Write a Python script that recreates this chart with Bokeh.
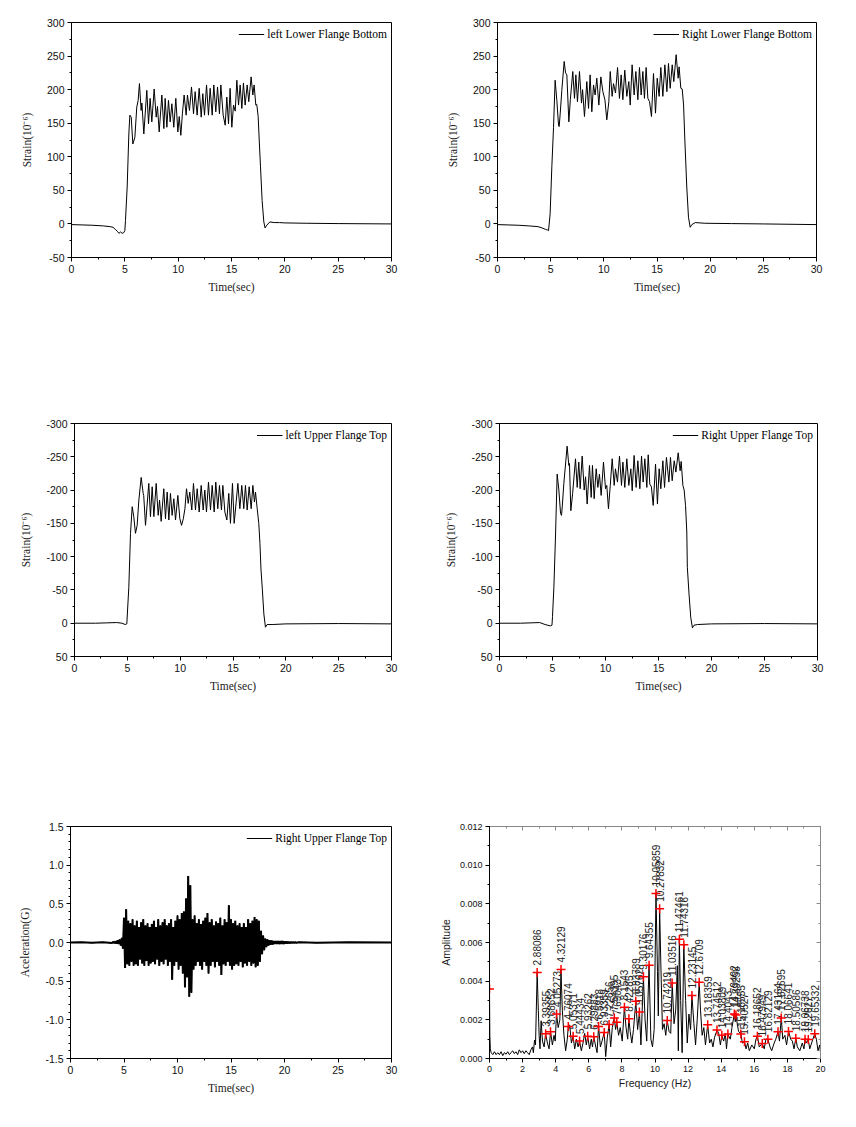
import math
from bokeh.plotting import figure
from bokeh.models import (Range1d, SingleIntervalTicker, PrintfTickFormatter, LinearAxis,
                          ColumnDataSource, CustomJSTickFormatter)
from bokeh.layouts import column, row
from bokeh.embed import file_html
from bokeh.resources import INLINE
from bokeh.core.properties import value

# ---------------- DATA ----------------
# Strain, left lower flange bottom: (time s, strain 1e-6)
s_left_lower = [(0, -1), (1, -1.5), (2, -2), (3, -3), (3.6, -4), (3.9, -5), (4.1, -8), (4.3, -11),
    (4.45, -14), (4.6, -12), (4.75, -14), (4.9, -13), (5.0, -10), (5.06, 5), (5.22, 55), (5.375, 134),
    (5.47, 162), (5.6, 159), (5.75, 119), (5.94, 129), (6.12, 174), (6.25, 184), (6.37, 209), (6.53, 169),
    (6.6, 180), (6.78, 134), (7.06, 199), (7.22, 149), (7.37, 187), (7.53, 152), (7.75, 201), (7.94, 159),
    (8.06, 175), (8.22, 137), (8.47, 192), (8.66, 142), (8.78, 187), (8.94, 144), (9.09, 184), (9.25, 152),
    (9.41, 179), (9.59, 144), (9.78, 187), (9.97, 137), (10.1, 160), (10.25, 132), (10.4, 165), (10.56, 192),
    (10.75, 162), (10.87, 192), (11.06, 169), (11.25, 204), (11.44, 164), (11.59, 197), (11.78, 162),
    (11.97, 202), (12.16, 159), (12.31, 194), (12.47, 162), (12.66, 207), (12.84, 162), (13.0, 202),
    (13.19, 162), (13.34, 207), (13.53, 167), (13.69, 204), (13.87, 164), (14.0, 207), (14.22, 162),
    (14.41, 147), (14.56, 189), (14.72, 149), (14.87, 202), (15.03, 144), (15.19, 177), (15.35, 168),
    (15.5, 214), (15.66, 177), (15.81, 207), (15.97, 172), (16.12, 210), (16.28, 177), (16.47, 207),
    (16.62, 182), (16.84, 219), (17.0, 192), (17.12, 207), (17.28, 177), (17.37, 178), (17.5, 160),
    (17.6, 125), (17.72, 85), (17.87, 35), (18.03, 3), (18.15, -6), (18.3, -2), (18.6, 3), (19.0, 2),
    (19.5, 2), (20, 1.5), (22, 1), (25, 0.5), (30, 0)]

s_right_lower = [(0, -1), (1, -1.5), (2, -2), (3, -3), (3.8, -4), (4.2, -6), (4.5, -8), (4.7, -9),
    (4.8, -10), (4.95, 15), (5.11, 85), (5.27, 144), (5.42, 214), (5.58, 184), (5.74, 147), (5.8, 145),
    (5.9, 165), (6.05, 199), (6.27, 242), (6.4, 225), (6.52, 222), (6.71, 152), (6.85, 185), (7.08, 227),
    (7.24, 187), (7.37, 222), (7.52, 182), (7.71, 227), (7.9, 180), (8.0, 200), (8.18, 160), (8.4, 212),
    (8.56, 172), (8.71, 222), (8.87, 167), (9.03, 207), (9.18, 192), (9.34, 217), (9.53, 177), (9.72, 219),
    (9.91, 197), (10.1, 185), (10.28, 155), (10.47, 182), (10.6, 227), (10.78, 190), (10.91, 209),
    (11.1, 195), (11.29, 233), (11.47, 187), (11.63, 222), (11.79, 185), (11.97, 229), (12.16, 190),
    (12.35, 212), (12.48, 177), (12.66, 237), (12.85, 192), (13.01, 227), (13.2, 185), (13.35, 233),
    (13.51, 192), (13.67, 227), (13.82, 187), (13.98, 233), (14.14, 187), (14.3, 182), (14.48, 160),
    (14.67, 224), (14.86, 165), (15.02, 217), (15.2, 190), (15.36, 233), (15.55, 190), (15.74, 237),
    (15.93, 197), (16.08, 239), (16.24, 202), (16.43, 237), (16.58, 212), (16.8, 252), (16.99, 217),
    (17.08, 234), (17.24, 202), (17.37, 201), (17.5, 177), (17.62, 125), (17.8, 55), (17.96, 10),
    (18.12, -5), (18.28, -1), (18.6, 2), (19.5, 1), (22, 0.5), (25, 0), (30, -1)]

s_left_upper = [(0, 0), (2, 0), (3, -0.5), (4, -1), (4.5, 0), (4.8, 2), (4.95, 1), (5.14, -54),
    (5.3, -135), (5.46, -175), (5.61, -160), (5.77, -135), (5.93, -147), (6.09, -185), (6.31, -219),
    (6.5, -195), (6.55, -192), (6.72, -147), (7.03, -210), (7.19, -160), (7.35, -205), (7.51, -160),
    (7.73, -210), (7.92, -162), (8.05, -185), (8.2, -153), (8.45, -202), (8.61, -157), (8.77, -197),
    (8.93, -155), (9.08, -195), (9.24, -162), (9.4, -187), (9.56, -155), (9.78, -192), (9.97, -157),
    (10.13, -147), (10.3, -157), (10.45, -172), (10.6, -202), (10.76, -180), (10.91, -197), (11.1, -170),
    (11.26, -210), (11.45, -170), (11.61, -202), (11.8, -167), (11.99, -207), (12.18, -170), (12.33, -200),
    (12.49, -167), (12.68, -212), (12.87, -170), (13.03, -207), (13.22, -167), (13.37, -212), (13.56, -172),
    (13.72, -207), (13.91, -170), (14.04, -207), (14.23, -167), (14.42, -155), (14.6, -195), (14.76, -150),
    (14.95, -210), (15.11, -150), (15.3, -182), (15.46, -210), (15.65, -172), (15.83, -207), (16.02, -172),
    (16.18, -207), (16.34, -170), (16.53, -205), (16.72, -172), (16.88, -207), (17.03, -182), (17.13, -197),
    (17.29, -172), (17.44, -150), (17.55, -120), (17.65, -80), (17.78, -50), (17.92, -14), (18.07, 6),
    (18.23, 2), (18.7, 2), (20, 1), (25, 0.5), (30, 1)]

s_right_upper = [(0, 0), (2, 0), (3.8, -1), (4.3, 2), (4.8, 4), (4.95, 3), (5.0, -10), (5.13, -54),
    (5.29, -134), (5.44, -224), (5.6, -200), (5.76, -165), (5.85, -162), (5.92, -175), (6.07, -210),
    (6.38, -266), (6.54, -237), (6.6, -240), (6.73, -169), (6.9, -195), (7.17, -247), (7.33, -204),
    (7.48, -242), (7.61, -202), (7.8, -251), (7.99, -200), (8.12, -220), (8.27, -179), (8.49, -237),
    (8.65, -189), (8.77, -237), (8.93, -187), (9.12, -232), (9.28, -204), (9.43, -224), (9.59, -192),
    (9.81, -242), (10.0, -202), (10.12, -207), (10.28, -172), (10.45, -207), (10.63, -247), (10.82, -207),
    (10.94, -232), (11.13, -212), (11.32, -251), (11.51, -207), (11.64, -242), (11.82, -204), (12.01, -247),
    (12.2, -207), (12.39, -232), (12.52, -199), (12.7, -252), (12.89, -204), (13.05, -244), (13.24, -202),
    (13.4, -251), (13.55, -212), (13.71, -247), (13.9, -204), (14.03, -253), (14.18, -209), (14.33, -205),
    (14.5, -177), (14.72, -239), (14.9, -179), (15.06, -232), (15.22, -202), (15.41, -244), (15.57, -204),
    (15.75, -249), (15.98, -212), (16.13, -249), (16.29, -214), (16.48, -244), (16.64, -227), (16.86, -256),
    (17.04, -229), (17.14, -243), (17.3, -207), (17.42, -200), (17.55, -177), (17.67, -137), (17.72, -84),
    (17.88, -44), (18.04, -9), (18.2, 7), (18.35, 3), (18.67, 2), (20, 1), (25, 0.5), (30, 1)]

# Acceleration (G): quiet part before/after, and per-0.2 s window max / min from 4.0 s to 21.0 s
acc_before = [(0, 0), (1, 0.003), (2, -0.003), (3, 0.004), (3.9, -0.005)]
acc_after = [(21.3, 0.004), (23, -0.003), (26, 0.002), (30, 0)]
acc_window_start = 4.0
acc_window = 0.2
acc_hi = [0.01, 0.015, 0.03, 0.04, 0.06,
          0.32, 0.43, 0.28, 0.25, 0.30,
          0.22, 0.28, 0.20, 0.26, 0.30,
          0.22, 0.25, 0.20, 0.24, 0.28,
          0.20, 0.30, 0.22, 0.26, 0.30,
          0.22, 0.25, 0.30, 0.20, 0.28,
          0.35, 0.30, 0.38, 0.40, 0.57,
          0.86, 0.74, 0.30, 0.35, 0.25,
          0.30, 0.24, 0.28, 0.32, 0.38,
          0.26, 0.30, 0.22, 0.27, 0.25,
          0.32, 0.22, 0.30, 0.26, 0.48,
          0.30, 0.25, 0.28, 0.22, 0.25,
          0.20, 0.25, 0.20, 0.30, 0.25,
          0.28, 0.33, 0.30, 0.28, 0.15,
          0.09, 0.05, 0.04, 0.03, 0.025,
          0.02, 0.02, 0.02, 0.018, 0.02,
          0.015, 0.012, 0.01, 0.008, 0.006, 0.005]
acc_lo = [-0.01, -0.015, -0.02, -0.04, -0.08,
          -0.33, -0.28, -0.30, -0.25, -0.30,
          -0.28, -0.30, -0.22, -0.27, -0.30,
          -0.24, -0.30, -0.27, -0.25, -0.28,
          -0.22, -0.30, -0.25, -0.28, -0.22,
          -0.30, -0.25, -0.48, -0.30, -0.25,
          -0.35, -0.30, -0.40, -0.58, -0.45,
          -0.70, -0.65, -0.35, -0.30, -0.25,
          -0.30, -0.35, -0.25, -0.30, -0.40,
          -0.30, -0.25, -0.32, -0.25, -0.30,
          -0.42, -0.28, -0.30, -0.25, -0.30,
          -0.35, -0.30, -0.28, -0.30, -0.25,
          -0.32, -0.27, -0.30, -0.25, -0.30,
          -0.27, -0.32, -0.30, -0.25, -0.15,
          -0.10, -0.06, -0.04, -0.03, -0.025,
          -0.02, -0.02, -0.02, -0.018, -0.02,
          -0.015, -0.012, -0.01, -0.008, -0.006, -0.005]

# FFT spectrum: (frequency Hz, amplitude in 1e-3)
fft_curve = [(0.0, 3.6), (0.02, 1.2), (0.05, 0.5), (0.1, 0.3), (0.2, 0.2), (0.3, 0.35), (0.4, 0.2),
    (0.5, 0.3), (0.6, 0.2), (0.7, 0.35), (0.8, 0.15), (0.9, 0.3), (1.0, 0.22), (1.1, 0.35), (1.2, 0.2),
    (1.3, 0.3), (1.4, 0.4), (1.5, 0.25), (1.6, 0.35), (1.7, 0.2), (1.8, 0.45), (1.9, 0.3), (2.0, 0.4),
    (2.1, 0.25), (2.2, 0.4), (2.3, 0.3), (2.4, 0.2), (2.5, 0.45), (2.6, 0.6), (2.65, 0.3), (2.72, 0.95),
    (2.78, 0.7), (2.88, 4.45), (2.95, 2.5), (3.0, 1.2), (3.05, 0.5), (3.12, 1.95), (3.2, 0.9), (3.3, 0.6),
    (3.39, 1.28), (3.5, 0.8), (3.6, 0.5), (3.69, 1.39), (3.8, 0.7), (3.9, 1.2), (3.97, 0.9), (4.05, 2.3),
    (4.15, 1.6), (4.25, 2.0), (4.32, 4.6), (4.4, 2.5), (4.5, 1.2), (4.6, 0.4), (4.7, 1.0), (4.76, 1.66),
    (4.85, 1.7), (4.95, 0.8), (5.05, 1.15), (5.15, 0.5), (5.25, 1.0), (5.35, 0.6), (5.44, 0.9), (5.55, 0.4),
    (5.65, 0.8), (5.75, 1.3), (5.85, 0.7), (5.93, 1.15), (6.05, 0.5), (6.15, 1.0), (6.22, 0.6), (6.3, 1.12),
    (6.4, 0.7), (6.5, 0.3), (6.59, 1.66), (6.7, 0.6), (6.8, 0.9), (6.93, 1.35), (7.02, 0.1), (7.12, 1.1),
    (7.23, 1.76), (7.32, 0.6), (7.42, 1.6), (7.54, 2.1), (7.62, 1.5), (7.69, 1.88), (7.8, 1.2), (7.9, 1.6),
    (8.02, 0.9), (8.15, 2.65), (8.25, 1.6), (8.35, 1.0), (8.42, 2.06), (8.5, 1.4), (8.6, 0.8), (8.7, 1.5),
    (8.84, 2.96), (8.95, 1.5), (9.06, 2.4), (9.15, 0.7), (9.3, 4.23), (9.4, 2.0), (9.5, 0.9), (9.64, 4.82),
    (9.75, 1.0), (9.85, 0.6), (9.95, 1.5), (10.06, 8.54), (10.15, 4.5), (10.2, 2.2), (10.28, 7.74),
    (10.35, 5.0), (10.45, 1.5), (10.55, 1.8), (10.65, 1.2), (10.74, 1.96), (10.85, 1.4), (10.95, 1.3),
    (11.04, 3.9), (11.15, 1.8), (11.25, 2.5), (11.35, 4.8), (11.41, 0.4), (11.47, 6.17), (11.55, 3.0),
    (11.64, 0.3), (11.74, 5.88), (11.85, 3.0), (11.95, 0.8), (12.05, 2.3), (12.15, 1.5), (12.23, 3.26),
    (12.35, 1.8), (12.45, 0.7), (12.55, 2.0), (12.67, 3.94), (12.75, 2.5), (12.85, 1.2), (12.95, 1.6),
    (13.05, 0.7), (13.18, 1.74), (13.3, 0.8), (13.4, 1.0), (13.5, 0.6), (13.6, 1.1), (13.75, 1.47),
    (13.85, 1.3), (13.95, 0.7), (14.04, 1.2), (14.15, 0.9), (14.25, 1.3), (14.32, 0.5), (14.4, 1.27),
    (14.55, 1.0), (14.65, 1.6), (14.79, 2.3), (14.85, 1.9), (14.89, 2.25), (14.97, 1.8), (15.05, 1.4),
    (15.19, 1.27), (15.28, 0.8), (15.41, 0.86), (15.5, 0.5), (15.6, 0.8), (15.7, 0.4), (15.85, 0.7),
    (16.0, 0.5), (16.1, 1.0), (16.19, 1.15), (16.3, 0.6), (16.48, 0.78), (16.6, 0.5), (16.7, 1.0),
    (16.82, 1.0), (16.95, 0.6), (17.05, 0.4), (17.2, 0.8), (17.3, 1.0), (17.43, 1.39), (17.52, 0.9),
    (17.63, 2.1), (17.72, 1.0), (17.85, 1.2), (17.95, 0.7), (18.07, 1.4), (18.2, 1.0), (18.3, 0.9),
    (18.4, 0.5), (18.51, 1.05), (18.6, 0.6), (18.75, 0.4), (18.9, 0.8), (19.0, 0.5), (19.07, 1.0),
    (19.15, 0.8), (19.26, 0.98), (19.35, 0.5), (19.5, 0.9), (19.65, 1.28), (19.75, 1.0), (19.85, 0.4),
    (19.95, 0.7), (20.0, 0.3)]

peak_freq = [2.88086, 3.39355, 3.68652, 4.05273, 4.32129, 4.76074, 5.05371, 5.44434, 5.93262, 6.29883,
             6.5918, 6.93359, 7.22656, 7.54395, 7.69043, 8.1543, 8.42285, 8.83789, 9.05762, 9.30176,
             9.64355, 10.05859, 10.27832, 10.74219, 11.03516, 11.47461, 11.74316, 12.23145, 12.6709,
             13.18359, 13.74512, 14.03809, 14.4043, 14.79492, 14.89258, 15.18555, 15.40527, 16.18652,
             16.47949, 16.82129, 17.43164, 17.62695, 18.06641, 18.50586, 19.06738, 19.2627, 19.65332]
peak_amp = [4.45, 1.28, 1.39, 2.30, 4.60, 1.66, 1.15, 0.90, 1.15, 1.12,
            1.66, 1.35, 1.76, 2.10, 1.88, 2.65, 2.06, 2.96, 2.40, 4.23,
            4.82, 8.54, 7.74, 1.96, 3.90, 6.17, 5.88, 3.26, 3.94,
            1.74, 1.47, 1.20, 1.27, 2.30, 2.25, 1.27, 0.86, 1.15,
            0.78, 1.00, 1.39, 2.10, 1.40, 1.05, 1.00, 0.98, 1.28]
zero_peak = (0.0, 3.6)

# ---------------- STYLE ----------------
SERIF = "Liberation Serif"
SANS = "Liberation Sans"


def make_fig(w, h, left, right, top, bottom, xr, yr):
    p = figure(width=w, height=h, x_range=xr, y_range=yr, output_backend="svg",
               toolbar_location=None, tools="",
               min_border_left=left, min_border_right=right,
               min_border_top=top, min_border_bottom=bottom)
    p.outline_line_color = "black"
    p.outline_line_width = 1
    p.background_fill_color = "white"
    p.border_fill_color = "white"
    p.xgrid.visible = False
    p.ygrid.visible = False
    return p


def style_axes(p, xint, xminor, yint, yminor, yfmt, xlabel, ylabel, lfont, lsize, tsize, xstand, ystand):
    p.xaxis.ticker = SingleIntervalTicker(interval=xint, num_minor_ticks=xminor)
    p.yaxis.ticker = SingleIntervalTicker(interval=yint, num_minor_ticks=yminor)
    p.xaxis.formatter = PrintfTickFormatter(format="%d")
    p.yaxis.formatter = PrintfTickFormatter(format=yfmt)
    for ax in (p.xaxis[0], p.yaxis[0]):
        ax.major_tick_in = 0
        ax.major_tick_out = 4
        ax.minor_tick_in = 0
        ax.minor_tick_out = 2
        ax.axis_line_color = "black"
        ax.major_tick_line_color = "black"
        ax.minor_tick_line_color = "black"
        ax.major_label_text_font = SANS
        ax.major_label_text_font_size = tsize
        ax.major_label_text_color = "#111111"
        ax.major_label_standoff = 3
        ax.axis_label_text_font = lfont
        ax.axis_label_text_font_size = lsize
        ax.axis_label_text_font_style = "normal"
        ax.axis_label_text_color = "#1a1a1a"
    p.xaxis.axis_label = xlabel
    p.yaxis.axis_label = ylabel
    p.xaxis.axis_label_standoff = xstand
    p.yaxis.axis_label_standoff = ystand


def style_legend(lg):
    lg.location = "top_right"
    lg.border_line_color = None
    lg.background_fill_alpha = 0
    lg.label_text_font = SERIF
    lg.label_text_font_size = "11.5px"
    lg.label_text_color = "black"
    lg.glyph_width = 26
    lg.glyph_height = 14
    lg.label_height = 16
    lg.label_standoff = 3
    lg.padding = 4
    lg.margin = 4
    lg.spacing = 0


def strain_panel(data, label, left, right, top, bottom, inverted):
    yr = Range1d(50, -300) if inverted else Range1d(-50, 300)
    p = make_fig(428, 400, left, right, top, bottom, Range1d(0, 30), yr)
    p.line([d[0] for d in data], [d[1] for d in data], line_color="black", line_width=1,
           legend_label=label)
    style_axes(p, 5, 2, 50, 2, "%d", "Time(sec)", "Strain(10\u207b\u2076)", SERIF, "11.5px", "10.5px", 5, 11)
    style_legend(p.legend[0])
    return p


p1 = strain_panel(s_left_lower, "left Lower Flange Bottom", 71, 37, 22, 143, False)
p2 = strain_panel(s_right_lower, "Right Lower Flange Bottom", 69, 40, 22, 143, False)
p3 = strain_panel(s_left_upper, "left Upper Flange Top", 74, 37, 23, 144, True)
p4 = strain_panel(s_right_upper, "Right Upper Flange Top", 71, 39, 23, 144, True)

# Acceleration panel
acc_t = [d[0] for d in acc_before]
acc_v = [d[1] for d in acc_before]
for i in range(len(acc_hi)):
    t0 = acc_window_start + acc_window * i
    acc_t += [t0, t0 + acc_window / 2]
    acc_v += [acc_hi[i], acc_lo[i]]
acc_t += [d[0] for d in acc_after]
acc_v += [d[1] for d in acc_after]

p5 = make_fig(428, 327, 70, 37, 22, 69, Range1d(0, 30), Range1d(-1.5, 1.5))
# thick pass gives the dense filled look; thin pass carries the legend sample
p5.line(acc_t, acc_v, line_color="black", line_width=2)
p5.line(acc_t, acc_v, line_color="black", line_width=1, legend_label="Right Upper Flange Top")
style_axes(p5, 5, 2, 0.5, 5, "%.1f", "Time(sec)", "Aceleration(G)", SERIF, "11.5px", "10.5px", 5, 11)
style_legend(p5.legend[0])

# FFT panel
p6 = make_fig(428, 327, 61, 36, 26, 64, Range1d(0, 20), Range1d(0, 0.012))
p6.outline_line_color = "#888888"
p6.line([d[0] for d in fft_curve], [d[1] * 1e-3 for d in fft_curve], line_color="black", line_width=1)
style_axes(p6, 2, 2, 0.002, 2, "%.3f", "Frequency (Hz)", "Amplitude", SANS, "10.5px", "9px", 2, 5)
for ax, loc, tk in ((LinearAxis(), "above", SingleIntervalTicker(interval=2, num_minor_ticks=2)),
                    (LinearAxis(), "right", SingleIntervalTicker(interval=0.002, num_minor_ticks=2))):
    ax.ticker = tk
    ax.formatter = CustomJSTickFormatter(code="return ''")
    ax.major_tick_in = 4
    ax.major_tick_out = 0
    ax.minor_tick_in = 2
    ax.minor_tick_out = 0
    ax.axis_line_color = "#888888"
    ax.major_tick_line_color = "#888888"
    ax.minor_tick_line_color = "#888888"
    ax.major_label_standoff = 0
    p6.add_layout(ax, loc)

peak_src = ColumnDataSource(dict(
    f=peak_freq,
    a=[v * 1e-3 for v in peak_amp],
    lbl=[("%.5f" % f).rstrip("0") for f in peak_freq],
))
p6.text(x="f", y="a", text="lbl", source=peak_src, angle=math.pi / 2, text_align="left",
        text_baseline="middle", y_offset=-7, text_font=value(SANS), text_font_size="10px",
        text_color="#222222")
p6.scatter(x="f", y="a", source=peak_src, marker="cross", size=9, line_color="red", line_width=1.5)
p6.scatter([zero_peak[0]], [zero_peak[1] * 1e-3], marker="cross", size=9, line_color="red", line_width=1.5)

layout = column(row(p1, p2), row(p3, p4), row(p5, p6))
open("out.html", "w").write(file_html(layout, INLINE))
